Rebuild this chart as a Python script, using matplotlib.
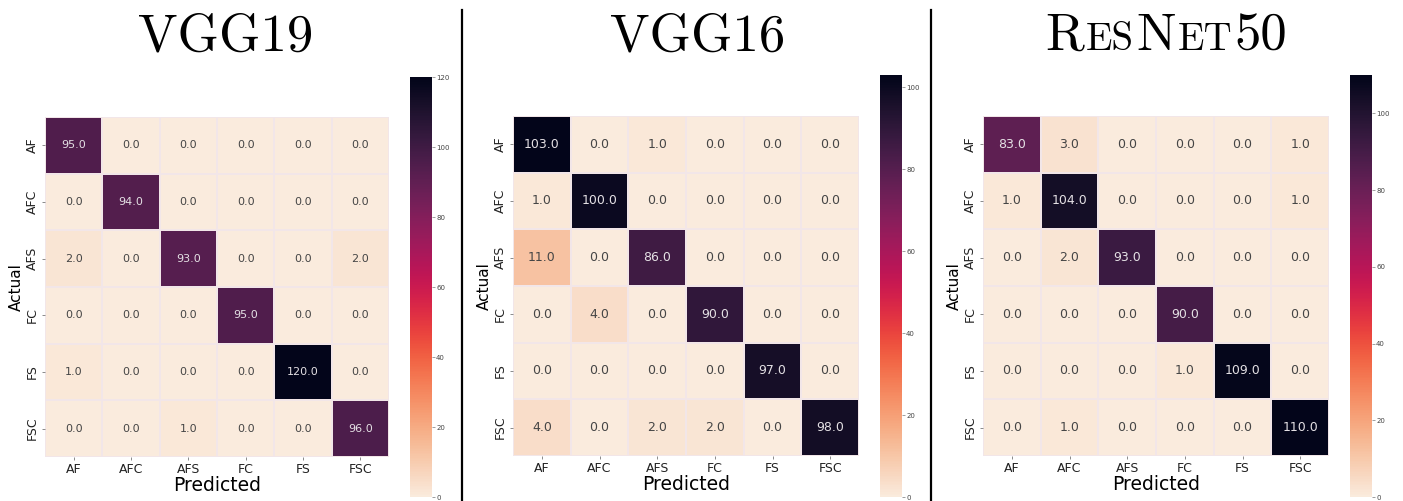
import numpy as np
import matplotlib
matplotlib.use('Agg')
import matplotlib.pyplot as plt
import seaborn as sns
from matplotlib.offsetbox import TextArea, HPacker, AnnotationBbox
from matplotlib.lines import Line2D

classes = ['AF', 'AFC', 'AFS', 'FC', 'FS', 'FSC']

vgg19 = np.array([
    [95, 0, 0, 0, 0, 0],
    [0, 94, 0, 0, 0, 0],
    [2, 0, 93, 0, 0, 2],
    [0, 0, 0, 95, 0, 0],
    [1, 0, 0, 0, 120, 0],
    [0, 0, 1, 0, 0, 96],
])
vgg16 = np.array([
    [103, 0, 1, 0, 0, 0],
    [1, 100, 0, 0, 0, 0],
    [11, 0, 86, 0, 0, 0],
    [0, 4, 0, 90, 0, 0],
    [0, 0, 0, 0, 97, 0],
    [4, 0, 2, 2, 0, 98],
])
resnet50 = np.array([
    [83, 3, 0, 0, 0, 1],
    [1, 104, 0, 0, 0, 1],
    [0, 2, 93, 0, 0, 0],
    [0, 0, 0, 90, 0, 0],
    [0, 0, 0, 1, 109, 0],
    [0, 1, 0, 0, 0, 110],
])

W, H = 1403, 501
fig = plt.figure(figsize=(W / 100, H / 100), dpi=100)


def px_axes(x0, y0, x1, y1):
    # pixel box (top-left origin) -> figure axes
    return fig.add_axes([x0 / W, 1 - y1 / H, (x1 - x0) / W, (y1 - y0) / H])


# heatmap box, colorbar box, annotation size
layout = [
    (vgg19, (45, 117, 389, 457), (410, 77, 432, 497), 8),
    (vgg16, (513, 116, 859, 456), (880, 75, 902, 497), 9),
    (resnet50, (983, 116, 1329, 456), (1350, 75, 1372, 497), 9),
]

for cm, hb, cb, asize in layout:
    ax = px_axes(*hb)
    cax = px_axes(*cb)
    sns.heatmap(cm, annot=True, fmt='.1f', cmap='rocket_r', ax=ax, cbar_ax=cax,
                linewidths=0.3, linecolor='#f2e6e8',
                annot_kws={'size': asize}, xticklabels=classes, yticklabels=classes)
    for t in ax.texts:
        if t.get_color() in ('#ffffff', 'w', 'white'):
            t.set_color('#e4e0e4')
        else:
            t.set_color('#454545')
    ax.tick_params(axis='both', labelsize=9, length=2.5, width=0.6,
                   color='#777777', labelcolor='#222222', pad=2)
    ax.set_yticklabels(classes, rotation=90, va='center')
    ax.set_xticklabels(classes, rotation=0)
    ax.set_xlabel('Predicted', fontsize=13.5, labelpad=0)
    ax.set_ylabel('Actual', fontsize=11, labelpad=1)
    cax.tick_params(labelsize=5, length=2, width=0.5, color='#777777',
                    labelcolor='#444444', pad=1)

# titles
fig.text(226 / W, 1 - 51 / H, 'VGG19', fontfamily='cmr10', fontsize=38,
         ha='center', va='baseline')
fig.text(698 / W, 1 - 51 / H, 'VGG16', fontfamily='cmr10', fontsize=38,
         ha='center', va='baseline')

big, small = 38, 28
parts = [('R', big), ('ES', small), ('N', big), ('ET', small), ('50', big)]
areas = [TextArea(s, textprops=dict(fontfamily='cmr10', fontsize=fs))
         for s, fs in parts]
box = HPacker(children=areas, align='baseline', pad=0, sep=1.5)
ab = AnnotationBbox(box, (1166 / W, 1 - 60 / H), xycoords='figure fraction',
                    box_alignment=(0.5, 0), frameon=False)
fig.add_artist(ab)

# separators between panels
for x in (462, 931):
    fig.add_artist(Line2D([x / W, x / W], [0, 1 - 10 / H], color='black',
                          linewidth=1.6, transform=fig.transFigure))

fig.savefig('out.png', dpi=100)
